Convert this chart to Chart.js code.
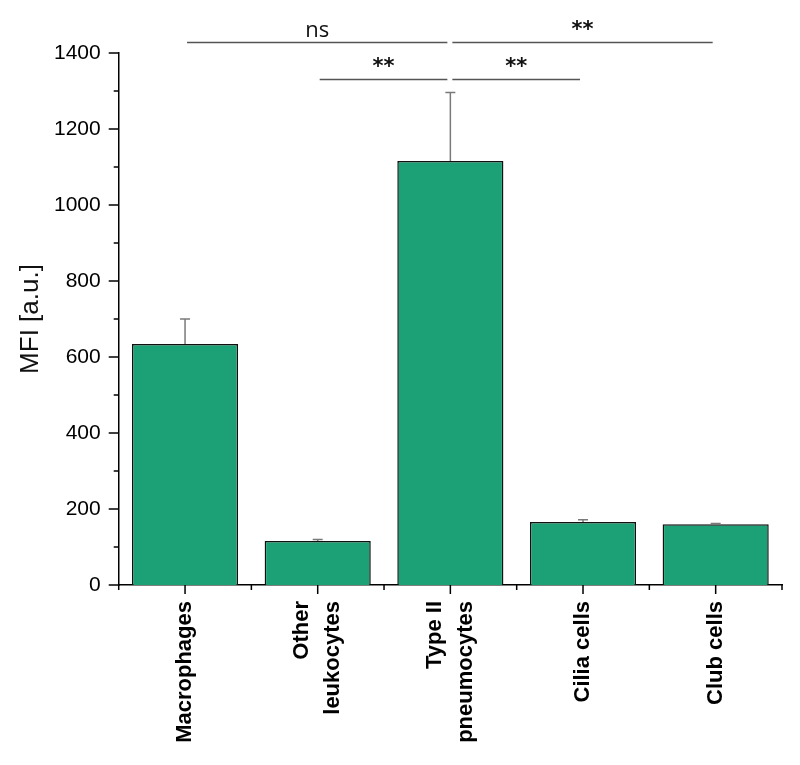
<!DOCTYPE html>
<html>
<head>
<meta charset="utf-8">
<script src="https://cdn.jsdelivr.net/npm/chart.js@4.4.1/dist/chart.umd.min.js"></script>
<style>
  html, body { margin: 0; padding: 0; background: #fff; }
  #wrap { width: 800px; height: 765px; position: relative; }
</style>
</head>
<body>
<div id="wrap"><canvas id="chart"></canvas></div>
<script>
const categories = [["Macrophages"], ["Other", "leukocytes"], ["Type II", "pneumocytes"], ["Cilia cells"], ["Club cells"]];
const mfiValues = [634, 116, 1116, 166, 160];
const errorValues = [66, 4, 180, 6, 2];
const yTicks = [0, 200, 400, 600, 800, 1000, 1200, 1400];
const sigFrom = [0, 2, 1, 2];
const sigTo = [2, 4, 2, 3];
const sigLevel = [1430, 1430, 1332, 1332];
const sigLabel = ["ns", "**", "**", "**"];
const yTitle = "MFI [a.u.]";

const FONT = "'Liberation Sans', Arial, sans-serif";

// error bars, significance brackets, axis ticks, x labels and y title
const extras = {
  id: "extras",
  afterDatasetsDraw(chart) {
    const ctx = chart.ctx;
    const x = chart.scales.x;
    const y = chart.scales.y;
    const half = (x.right - x.left) / categories.length / 2;
    const base = y.getPixelForValue(0);

    ctx.save();
    // error bars (upper only)
    ctx.strokeStyle = "#7a7a7a";
    ctx.lineWidth = 1.5;
    mfiValues.forEach((v, i) => {
      const cx = x.getPixelForValue(i);
      const y0 = y.getPixelForValue(v);
      const y1 = y.getPixelForValue(v + errorValues[i]);
      ctx.beginPath();
      ctx.moveTo(cx, y0);
      ctx.lineTo(cx, y1);
      ctx.moveTo(cx - 5, y1);
      ctx.lineTo(cx + 5, y1);
      ctx.stroke();
    });

    // brackets
    ctx.strokeStyle = "#555";
    ctx.fillStyle = "#111";
    ctx.lineWidth = 1.5;
    ctx.textAlign = "center";
    ctx.textBaseline = "bottom";
    sigLabel.forEach((lab, k) => {
      const xa = x.getPixelForValue(sigFrom[k]) + 2;
      const xb = x.getPixelForValue(sigTo[k]) - 3;
      const ly = Math.round(y.getPixelForValue(sigLevel[k])) + 0.5;
      ctx.beginPath();
      ctx.moveTo(xa, ly);
      ctx.lineTo(xb, ly);
      ctx.stroke();
      ctx.font = lab === "ns" ? "22px 'Open Sans', sans-serif" : "bold 21px 'DejaVu Sans', sans-serif";
      ctx.fillText(lab, (xa + xb) / 2, ly - 1);
    });

    // axis ticks
    ctx.strokeStyle = "#000";
    ctx.lineWidth = 1.5;
    for (let v = 0; v <= 1400; v += 100) {
      const py = y.getPixelForValue(v);
      const len = v % 200 === 0 ? 10 : 5;
      ctx.beginPath();
      ctx.moveTo(y.right, py);
      ctx.lineTo(y.right - len, py);
      ctx.stroke();
    }
    categories.forEach((c, i) => {
      const cx = x.getPixelForValue(i);
      ctx.beginPath();
      ctx.moveTo(cx, base);
      ctx.lineTo(cx, base + 9);
      ctx.moveTo(cx - half, base);
      ctx.lineTo(cx - half, base + 5);
      ctx.stroke();
    });
    ctx.beginPath();
    ctx.moveTo(x.right, base);
    ctx.lineTo(x.right, base + 5);
    ctx.stroke();

    // rotated category labels, lines centred on the tick
    ctx.fillStyle = "#000";
    ctx.font = "bold 22px " + FONT;
    ctx.textAlign = "right";
    ctx.textBaseline = "middle";
    categories.forEach((lines, i) => {
      const cx = x.getPixelForValue(i);
      lines.forEach((line, j) => {
        const off = (j - (lines.length - 1) / 2) * 31;
        ctx.save();
        ctx.translate(cx + off, base + 16);
        ctx.rotate(-Math.PI / 2);
        ctx.fillText(line, 0, 0);
        ctx.restore();
      });
    });

    // y axis title
    ctx.fillStyle = "#111";
    ctx.font = "26px " + FONT;
    ctx.textAlign = "center";
    ctx.save();
    ctx.translate(31, (y.top + y.bottom) / 2);
    ctx.rotate(-Math.PI / 2);
    ctx.fillText(yTitle, 0, 0);
    ctx.restore();
    ctx.restore();
  }
};

new Chart(document.getElementById("chart"), {
  type: "bar",
  data: {
    labels: categories,
    datasets: [{
      data: mfiValues,
      backgroundColor: "#1ca177",
      borderColor: "#111",
      borderWidth: 1.5,
      categoryPercentage: 1,
      barPercentage: 0.8
    }]
  },
  options: {
    responsive: true,
    maintainAspectRatio: false,
    animation: false,
    layout: { padding: { top: 53, right: 18, bottom: 180, left: 36 } },
    plugins: {
      legend: { display: false },
      tooltip: { enabled: false }
    },
    scales: {
      x: {
        offset: true,
        grid: { display: false, drawTicks: false },
        border: { display: true, color: "#000", width: 1.5 },
        ticks: { display: false }
      },
      y: {
        min: 0,
        max: 1400,
        afterBuildTicks(scale) {
          scale.ticks = yTicks.map(v => ({ value: v }));
        },
        grid: { display: false, drawTicks: false },
        border: { display: true, color: "#000", width: 1.5 },
        ticks: {
          color: "#000",
          font: { family: FONT, size: 21 },
          padding: 18,
          callback: v => String(v)
        }
      }
    }
  },
  plugins: [extras]
});
</script>
</body>
</html>
